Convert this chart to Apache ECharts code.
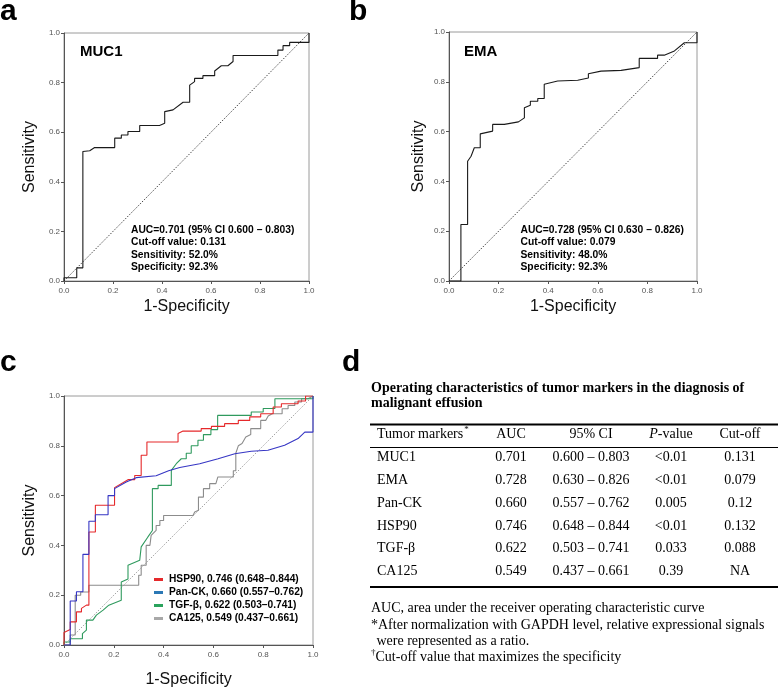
<!DOCTYPE html>
<html><head><meta charset="utf-8">
<script src="https://cdn.jsdelivr.net/npm/echarts/dist/echarts.min.js"></script>
<style>html,body{margin:0;padding:0;background:#fff}#c{width:778px;height:687px}</style>
</head><body><div id="c"></div>
<script>
// ---------- data ----------
const axisTickValues = [0, 0.2, 0.4, 0.6, 0.8, 1.0];
const diagonal = [[0, 0], [1, 1]];

const muc1Roc = [[0,0],[0,0.013],[0.052,0.013],[0.052,0.053],[0.077,0.053],[0.077,0.522],[0.105,0.525],[0.125,0.538],[0.207,0.538],[0.207,0.576],[0.234,0.576],[0.234,0.589],[0.261,0.589],[0.261,0.603],[0.309,0.603],[0.309,0.627],[0.39,0.627],[0.411,0.636],[0.411,0.683],[0.445,0.69],[0.486,0.721],[0.513,0.721],[0.513,0.79],[0.533,0.804],[0.533,0.817],[0.567,0.817],[0.567,0.828],[0.615,0.828],[0.615,0.847],[0.642,0.868],[0.669,0.868],[0.69,0.885],[0.69,0.909],[0.873,0.909],[0.873,0.931],[0.894,0.931],[0.894,0.949],[0.921,0.949],[0.921,0.962],[1,0.962],[1,1]];

const emaRoc = [[0,0],[0.048,0],[0.048,0.227],[0.075,0.227],[0.075,0.481],[0.089,0.501],[0.102,0.535],[0.126,0.535],[0.126,0.591],[0.176,0.602],[0.176,0.629],[0.223,0.629],[0.28,0.639],[0.304,0.655],[0.304,0.696],[0.328,0.706],[0.328,0.722],[0.358,0.722],[0.358,0.733],[0.384,0.733],[0.384,0.79],[0.438,0.803],[0.519,0.806],[0.562,0.815],[0.562,0.832],[0.613,0.843],[0.694,0.846],[0.767,0.857],[0.767,0.894],[0.841,0.894],[0.841,0.907],[0.868,0.907],[0.909,0.924],[0.949,0.957],[1,0.957],[1,1]];

const hsp90Roc = [[0,0],[0,0.05],[0.025,0.062],[0.025,0.093],[0.05,0.093],[0.05,0.133],[0.07,0.133],[0.07,0.147],[0.09,0.16],[0.1,0.16],[0.1,0.454],[0.126,0.454],[0.126,0.561],[0.203,0.561],[0.203,0.632],[0.257,0.664],[0.284,0.664],[0.284,0.681],[0.31,0.681],[0.31,0.762],[0.333,0.762],[0.333,0.815],[0.458,0.815],[0.458,0.849],[0.478,0.859],[0.551,0.859],[0.551,0.869],[0.592,0.869],[0.592,0.878],[0.645,0.878],[0.645,0.889],[0.70,0.889],[0.70,0.902],[0.746,0.902],[0.746,0.916],[0.79,0.916],[0.79,0.929],[0.84,0.929],[0.84,0.956],[0.873,0.956],[0.873,0.969],[0.94,0.969],[0.94,0.98],[0.97,0.98],[0.97,1],[1,1]];

const panckRoc = [[0,0],[0.025,0],[0.025,0.177],[0.05,0.177],[0.05,0.214],[0.076,0.214],[0.076,0.364],[0.1,0.364],[0.1,0.497],[0.126,0.497],[0.126,0.523],[0.177,0.523],[0.177,0.60],[0.203,0.60],[0.203,0.628],[0.25,0.655],[0.29,0.672],[0.37,0.68],[0.42,0.70],[0.465,0.713],[0.545,0.728],[0.619,0.748],[0.686,0.768],[0.752,0.778],[0.819,0.782],[0.886,0.802],[0.94,0.829],[0.967,0.855],[1,0.855],[1,1]];

const tgfRoc = [[0,0],[0,0.012],[0.025,0.012],[0.025,0.025],[0.074,0.025],[0.074,0.046],[0.09,0.06],[0.09,0.1],[0.116,0.1],[0.13,0.12],[0.157,0.14],[0.18,0.16],[0.23,0.18],[0.23,0.253],[0.257,0.265],[0.257,0.32],[0.304,0.34],[0.31,0.394],[0.337,0.434],[0.355,0.46],[0.355,0.628],[0.378,0.628],[0.378,0.641],[0.431,0.641],[0.431,0.701],[0.451,0.728],[0.471,0.748],[0.491,0.748],[0.491,0.77],[0.511,0.77],[0.511,0.8],[0.538,0.8],[0.538,0.822],[0.56,0.822],[0.56,0.845],[0.59,0.845],[0.59,0.865],[0.617,0.865],[0.617,0.922],[0.752,0.922],[0.752,0.936],[0.8,0.936],[0.8,0.95],[0.847,0.95],[0.847,0.989],[1,0.989],[1,1]];

const ca125Roc = [[0,0],[0.025,0],[0.025,0.04],[0.045,0.04],[0.045,0.2],[0.067,0.2],[0.067,0.213],[0.1,0.213],[0.1,0.24],[0.3,0.24],[0.3,0.28],[0.31,0.28],[0.31,0.32],[0.33,0.32],[0.33,0.4],[0.345,0.4],[0.35,0.44],[0.37,0.46],[0.37,0.48],[0.385,0.48],[0.385,0.5],[0.4,0.5],[0.4,0.52],[0.518,0.52],[0.525,0.534],[0.54,0.541],[0.54,0.594],[0.56,0.594],[0.56,0.628],[0.585,0.628],[0.585,0.648],[0.61,0.648],[0.618,0.675],[0.68,0.675],[0.68,0.70],[0.69,0.70],[0.69,0.77],[0.7,0.8],[0.715,0.809],[0.73,0.835],[0.75,0.845],[0.75,0.869],[0.79,0.869],[0.79,0.902],[0.81,0.902],[0.82,0.92],[0.836,0.929],[0.876,0.929],[0.876,0.949],[0.9,0.949],[0.9,0.962],[0.927,0.962],[0.927,0.976],[0.954,0.976],[0.954,0.989],[0.98,0.989],[1,1]];

const panelTitles = ['MUC1', 'EMA'];
const muc1Notes = ['AUC=0.701 (95% CI 0.600 \u2013 0.803)', 'Cut-off value: 0.131', 'Sensitivity: 52.0%', 'Specificity: 92.3%'];
const emaNotes = ['AUC=0.728 (95% CI 0.630 \u2013 0.826)', 'Cut-off value: 0.079', 'Sensitivity: 48.0%', 'Specificity: 92.3%'];
const legendNames = ['HSP90, 0.746 (0.648\u20130.844)', 'Pan-CK, 0.660 (0.557\u20130.762)', 'TGF-\u03b2, 0.622 (0.503\u20130.741)', 'CA125, 0.549 (0.437\u20130.661)'];

const tableTitle = ['Operating characteristics of tumor markers in the diagnosis of', 'malignant effusion'];
const tableMarkers = ['MUC1', 'EMA', 'Pan-CK', 'HSP90', 'TGF-\u03b2', 'CA125'];
const tableAUC = ['0.701', '0.728', '0.660', '0.746', '0.622', '0.549'];
const tableCI = ['0.600 \u2013 0.803', '0.630 \u2013 0.826', '0.557 \u2013 0.762', '0.648 \u2013 0.844', '0.503 \u2013 0.741', '0.437 \u2013 0.661'];
const tablePValue = ['<0.01', '<0.01', '0.005', '<0.01', '0.033', '0.39'];
const tableCutoff = ['0.131', '0.079', '0.12', '0.132', '0.088', 'NA'];
const tableNotes = ['AUC, area under the receiver operating characteristic curve', '*After normalization with GAPDH level, relative expressional signals', ' were represented as a ratio.', 'Cut-off value that maximizes the specificity'];

// ---------- styling ----------
const SANS = '"Liberation Sans", Arial, sans-serif';
const SERIF = '"Liberation Serif", "Times New Roman", serif';
const C = { red: '#e5292b', blue: '#3636c4', green: '#2f9a5e', grey: '#8c8c8c' };
const LEG = { red: '#e5292b', blue: '#2b78b5', green: '#2aa35c', grey: '#a8a8a8' };

const grids = [
  { left: 64, top: 33, width: 245, height: 248 },
  { left: 449, top: 32, width: 248, height: 249 },
  { left: 64, top: 396, width: 249, height: 249 }
].map(g => Object.assign({ show: true, borderColor: '#9a9a9a', borderWidth: 1, containLabel: false, outerBoundsMode: 'none' }, g));

function axis(type, gi, gap) {
  return {
    type: 'value', gridIndex: gi, min: 0, max: 1, interval: 0.2,
    name: type === 'x' ? '1-Specificity' : 'Sensitivity',
    nameLocation: 'middle', nameGap: gap,
    nameTextStyle: { fontFamily: SANS, fontSize: 16, color: '#111' },
    axisLine: { show: true, lineStyle: { color: '#555', width: 1 } },
    axisTick: { show: true, length: 3, lineStyle: { color: '#555' } },
    axisLabel: { fontFamily: SANS, fontSize: 8, color: '#555', margin: type === 'x' ? 6 : 4, formatter: v => v.toFixed(1) },
    splitLine: { show: false }
  };
}
function line(name, data, gi, color, extra) {
  return Object.assign({
    name, type: 'line', data, xAxisIndex: gi, yAxisIndex: gi, symbol: 'none', showSymbol: false,
    animation: false, silent: true, lineStyle: { color, width: 1.1 }, itemStyle: { color }
  }, extra || {});
}
function diag(gi, color) {
  return line('diag' + gi, diagonal, gi, color, { lineStyle: { color, width: 0.9, type: [1.5, 1.5] }, z: 1 });
}

const graphics = [];
function txt(x, y, text, font, opts) {
  graphics.push(Object.assign({ type: 'text', x, y, silent: true,
    style: Object.assign({ text, font, fill: '#000', textAlign: 'left', textVerticalAlign: 'middle' }, (opts || {}).style || {}) }, (opts || {}).el || {}));
}
function hline(x1, x2, y, w) {
  graphics.push({ type: 'line', silent: true, shape: { x1, y1: y, x2, y2: y }, style: { stroke: '#000', lineWidth: w } });
}

// panel letters
txt(0, 12, 'a', 'bold 30px ' + SANS);
txt(349, 12, 'b', 'bold 30px ' + SANS);
txt(0, 363, 'c', 'bold 30px ' + SANS);
txt(342, 363, 'd', 'bold 30px ' + SANS);

// panel titles and notes
txt(80, 52, panelTitles[0], 'bold 15px ' + SANS);
txt(464, 52, panelTitles[1], 'bold 15px ' + SANS);
muc1Notes.forEach((t, i) => txt(131, 230 + i * 12.4, t, 'bold 10.3px ' + SANS));
emaNotes.forEach((t, i) => txt(520.5, 230 + i * 12.4, t, 'bold 10.3px ' + SANS));

// table
tableTitle.forEach((t, i) => txt(371, 388.5 + i * 15, t, 'bold 14px ' + SERIF));
hline(370, 778, 424.5, 2);
hline(370, 778, 447.5, 1);
hline(370, 778, 587, 2);
const colX = [377, 511, 591, 671, 740];
const rowY0 = 457.5, rowStep = 22.8;
graphics.push({ type: 'text', x: colX[0], y: 434, silent: true, style: {
  text: '{n|Tumor markers}{s|*}', textAlign: 'left', textVerticalAlign: 'middle',
  rich: { n: { font: '14px ' + SERIF, fill: '#000' }, s: { font: '9px ' + SERIF, fill: '#000', padding: [0, 0, 9, 1] } } } });
txt(colX[1], 434, 'AUC', '14px ' + SERIF, { style: { textAlign: 'center' } });
txt(colX[2], 434, '95% CI', '14px ' + SERIF, { style: { textAlign: 'center' } });
graphics.push({ type: 'text', x: colX[3], y: 434, silent: true, style: {
  text: '{i|P}{n|-value}', textAlign: 'center', textVerticalAlign: 'middle',
  rich: { i: { font: 'italic 14px ' + SERIF, fill: '#000' }, n: { font: '14px ' + SERIF, fill: '#000' } } } });
txt(colX[4], 434, 'Cut-off', '14px ' + SERIF, { style: { textAlign: 'center' } });
tableMarkers.forEach((m, i) => {
  const y = rowY0 + i * rowStep;
  txt(colX[0], y, m, '14px ' + SERIF);
  txt(colX[1], y, tableAUC[i], '14px ' + SERIF, { style: { textAlign: 'center' } });
  txt(colX[2], y, tableCI[i], '14px ' + SERIF, { style: { textAlign: 'center' } });
  txt(colX[3], y, tablePValue[i], '14px ' + SERIF, { style: { textAlign: 'center' } });
  txt(colX[4], y, tableCutoff[i], '14px ' + SERIF, { style: { textAlign: 'center' } });
});
txt(371, 608.5, tableNotes[0], '14px ' + SERIF);
txt(371, 625, tableNotes[1], '14px ' + SERIF);
txt(373, 641.5, tableNotes[2], '14px ' + SERIF);
graphics.push({ type: 'text', x: 371, y: 657, silent: true, style: {
  text: '{s|\u2020}{n|' + tableNotes[3] + '}', textAlign: 'left', textVerticalAlign: 'middle',
  rich: { n: { font: '14px ' + SERIF, fill: '#000' }, s: { font: '9px ' + SERIF, fill: '#000', padding: [0, 0, 8, 0] } } } });

const option = {
  backgroundColor: '#fff',
  animation: false,
  grid: grids,
  xAxis: [axis('x', 0, 18), axis('x', 1, 18), axis('x', 2, 27)],
  yAxis: [axis('y', 0, 26), axis('y', 1, 22), axis('y', 2, 26)],
  legend: {
    show: true, orient: 'vertical', left: 154, top: 573.5, padding: 0,
    itemWidth: 9, itemHeight: 3, itemGap: 1, icon: 'rect', selectedMode: false,
    textStyle: { fontFamily: SANS, fontSize: 10.2, fontWeight: 'bold', color: '#000', lineHeight: 12, padding: [0, 0, 0, 1] },
    data: [
      { name: legendNames[0], itemStyle: { color: LEG.red } },
      { name: legendNames[1], itemStyle: { color: LEG.blue } },
      { name: legendNames[2], itemStyle: { color: LEG.green } },
      { name: legendNames[3], itemStyle: { color: LEG.grey } }
    ]
  },
  series: [
    diag(0, '#333'), line('MUC1', muc1Roc, 0, '#1a1a1a'),
    diag(1, '#333'), line('EMA', emaRoc, 1, '#1a1a1a'),
    diag(2, '#999'),
    line(legendNames[3], ca125Roc, 2, C.grey),
    line(legendNames[2], tgfRoc, 2, C.green),
    line(legendNames[0], hsp90Roc, 2, C.red),
    line(legendNames[1], panckRoc, 2, C.blue)
  ],
  graphic: { elements: graphics }
};
const chart = echarts.init(document.getElementById('c'), null, { renderer: 'canvas' });
chart.setOption(option);
</script></body></html>
